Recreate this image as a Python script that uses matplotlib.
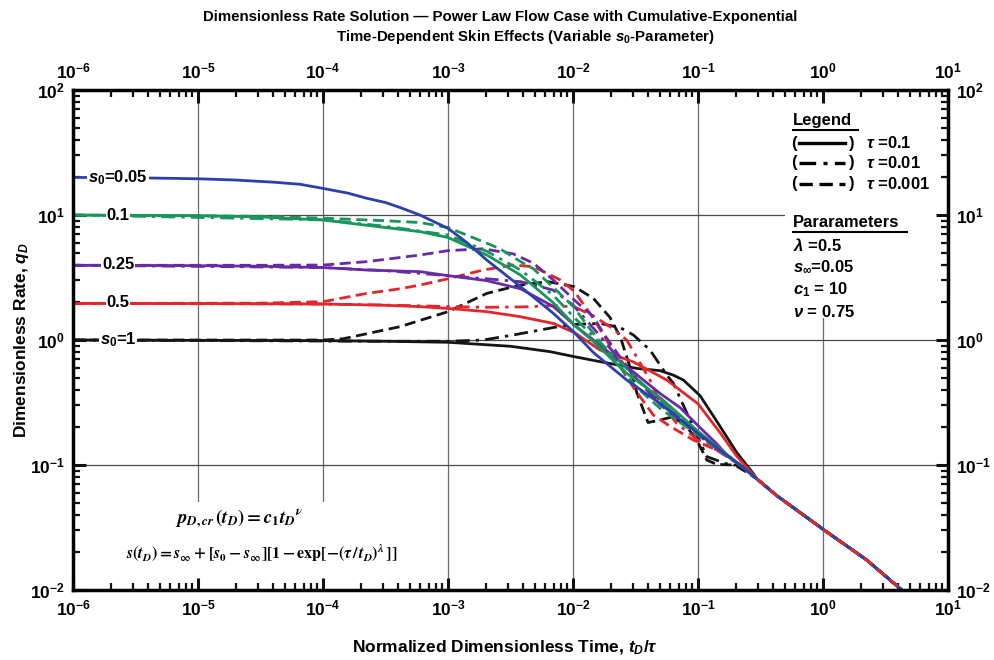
import numpy as np
import matplotlib
matplotlib.use('Agg')
import matplotlib.pyplot as plt
from matplotlib.ticker import FixedLocator, LogLocator, FuncFormatter, NullFormatter
from matplotlib.patches import Rectangle

# ---- data: log10(t_D/tau), log10(q_D) ----
# late-time common line shared by every curve
lt_tail = [-0.53, -0.37, 0.016, 0.35, 0.63, 0.75]
lq_tail = [-1.11, -1.245, -1.525, -1.76, -2.0, -2.09]

# s0 = 0.05 (s0 = s_inf, all tau coincide)
lt_005 = [-6, -5.5, -5, -4.7, -4.4, -4.184, -4.0, -3.8, -3.65, -3.5, -3.384, -3.224, -3.0, -2.85, -2.69, -2.424, -2.157, -1.99, -1.837, -1.57, -1.304, -1.0, -0.85, -0.664]
lq_005 = [1.301, 1.298, 1.29, 1.28, 1.263, 1.246, 1.213, 1.175, 1.134, 1.1, 1.06, 1.0, 0.893, 0.78, 0.64, 0.43, 0.213, 0.06, -0.1, -0.32, -0.507, -0.747, -0.86, -1.0]

# s0 = 0.1
lt_01_a = [-6, -5, -4.5, -4, -3.5, -3.224, -3.0, -2.69, -2.42, -2.16, -1.99, -1.85, -1.57, -1.304, -1.144, -1.0, -0.85, -0.664]
lq_01_a = [1.0, 0.995, 0.985, 0.96, 0.9, 0.867, 0.82, 0.68, 0.52, 0.3, 0.12, 0.0, -0.267, -0.46, -0.6, -0.73, -0.85, -1.0]
lt_01_b = [-6, -4, -3.5, -3.0, -2.69, -2.42, -2.16, -1.99, -1.85, -1.7, -1.5, -1.3, -1.0, -0.85, -0.664]
lq_01_b = [1.0, 0.962, 0.91, 0.84, 0.71, 0.56, 0.36, 0.18, 0.04, -0.1, -0.3, -0.48, -0.74, -0.86, -1.0]
lt_01_c = [-6, -4.5, -4.0, -3.517, -3.224, -3.0, -2.69, -2.584, -2.424, -2.317, -2.157, -2.0, -1.85, -1.7, -1.5, -1.3, -1.0, -0.85, -0.664]
lq_01_c = [1.0, 0.99, 0.975, 0.955, 0.94, 0.9, 0.775, 0.73, 0.63, 0.57, 0.42, 0.27, 0.07, -0.12, -0.37, -0.55, -0.76, -0.87, -1.0]

# s0 = 0.25
lt_025_a = [-6, -5, -4.5, -4, -3.65, -3.224, -3.0, -2.69, -2.42, -2.16, -1.99, -1.837, -1.57, -1.304, -1.144, -1.0, -0.85, -0.77, -0.664]
lq_025_a = [0.598, 0.595, 0.59, 0.58, 0.56, 0.547, 0.515, 0.475, 0.41, 0.27, 0.12, 0.0, -0.213, -0.427, -0.54, -0.685, -0.83, -0.92, -1.0]
lt_025_b = [-6, -4, -3.5, -3.0, -2.69, -2.42, -2.16, -2.0, -1.85, -1.7, -1.5, -1.3, -1.0, -0.85, -0.664]
lq_025_b = [0.598, 0.58, 0.555, 0.515, 0.49, 0.467, 0.4, 0.28, 0.11, -0.07, -0.3, -0.5, -0.74, -0.86, -1.0]
lt_025_c = [-6, -4.5, -4.0, -3.65, -3.224, -3.0, -2.72, -2.48, -2.317, -2.157, -1.99, -1.837, -1.757, -1.65, -1.5, -1.3, -1.0, -0.85, -0.664]
lq_025_c = [0.598, 0.598, 0.6, 0.627, 0.68, 0.715, 0.73, 0.69, 0.615, 0.48, 0.32, 0.187, 0.053, -0.1, -0.3, -0.52, -0.76, -0.87, -1.0]

# s0 = 0.5
lt_05_a = [-6, -5, -4, -3.5, -3.224, -3.0, -2.69, -2.424, -2.157, -1.99, -1.784, -1.517, -1.25, -1.0, -0.824, -0.69, -0.6]
lq_05_a = [0.293, 0.292, 0.288, 0.278, 0.267, 0.253, 0.227, 0.187, 0.133, 0.06, -0.08, -0.175, -0.32, -0.51, -0.74, -0.93, -1.03]
lt_05_b = [-6, -4, -3.5, -3.0, -2.7, -2.4, -2.15, -1.99, -1.85, -1.704, -1.57, -1.384, -1.304, -1.17, -1.0, -0.85, -0.664]
lq_05_b = [0.293, 0.288, 0.28, 0.268, 0.262, 0.265, 0.275, 0.265, 0.2, 0.107, 0.0, -0.32, -0.5, -0.667, -0.8, -0.88, -1.0]
lt_05_c = [-6, -4.5, -4.0, -3.65, -3.384, -3.224, -3.0, -2.72, -2.48, -2.317, -2.1, -1.99, -1.864, -1.73, -1.624, -1.517, -1.357, -1.224, -1.037, -0.85, -0.664]
lq_05_c = [0.293, 0.295, 0.307, 0.373, 0.41, 0.44, 0.49, 0.56, 0.6, 0.587, 0.48, 0.39, 0.213, 0.0, -0.213, -0.38, -0.6, -0.69, -0.8, -0.88, -1.0]

# s0 = 1
lt_1_a = [-6, -4, -3.5, -3.0, -2.5, -2.184, -1.99, -1.784, -1.49, -1.304, -1.2, -1.117, -0.984, -0.85, -0.69, -0.557]
lq_1_a = [0.0, -0.005, -0.01, -0.018, -0.05, -0.093, -0.133, -0.173, -0.227, -0.245, -0.28, -0.32, -0.445, -0.65, -0.9, -1.07]
lt_1_b = [-6, -3.5, -3.0, -2.72, -2.48, -2.157, -1.99, -1.784, -1.624, -1.517, -1.384, -1.25, -1.197, -1.064, -0.93, -0.744, -0.664]
lq_1_b = [0.0, -0.01, -0.01, 0.0, 0.04, 0.1, 0.125, 0.133, 0.1, 0.04, -0.08, -0.28, -0.347, -0.64, -0.933, -1.0, -1.0]
lt_1_c = [-6, -4.0, -3.84, -3.384, -3.0, -2.69, -2.424, -2.2, -1.99, -1.837, -1.704, -1.62, -1.55, -1.49, -1.4, -1.304, -1.198, -1.09, -1.01, -0.93, -0.85, -0.704, -0.624]
lq_1_c = [0.0, 0.0, 0.01, 0.107, 0.227, 0.373, 0.44, 0.467, 0.427, 0.333, 0.18, 0.02, -0.2, -0.42, -0.66, -0.64, -0.613, -0.693, -0.8, -0.96, -0.995, -1.0, -1.05]

x_decades = [-6, -5, -4, -3, -2, -1, 0, 1]
y_decades = [-2, -1, 0, 1, 2]
s0_labels = [r'$s_0$=0.05', '0.1', '0.25', '0.5', r'$s_0$=1']
s0_values = [0.05, 0.1, 0.25, 0.5, 1.0]
tau_labels = [r'$\tau$ =0.1', r'$\tau$ =0.01', r'$\tau$ =0.001']
param_labels = [r'$\lambda$ =0.5', r'$s_\infty$=0.05', r'$c_1$ = 10', r'$\nu$ = 0.75']

# ---- style ----
plt.rcParams['font.family'] = ['Liberation Sans', 'DejaVu Sans']
plt.rcParams['font.weight'] = 'bold'
plt.rcParams['mathtext.fontset'] = 'custom'
plt.rcParams['mathtext.rm'] = 'Liberation Sans:bold'
plt.rcParams['mathtext.bf'] = 'Liberation Sans:bold'
plt.rcParams['mathtext.it'] = 'Liberation Sans:italic:bold'

blue, green, purple, red, black = '#2b3fb0', '#17955a', '#6a2aa5', '#e3262b', '#151515'
ls_solid = '-'
ls_dashdot = (0, (5, 2.2, 1.2, 2.2))
ls_dash = (0, (4, 2))

fig = plt.figure(figsize=(9.95, 6.6), dpi=100)
ax = fig.add_axes([0.0734, 0.106, 0.8794, 0.7576])
ax.set_xscale('log')
ax.set_yscale('log')
ax.set_xlim(1e-6, 1e1)
ax.set_ylim(1e-2, 1e2)

# decade grid (drawn low so white text boxes can hide it)
for e in x_decades[1:-1]:
    ax.axvline(10.0 ** e, color='#6a6a6a', lw=0.9, zorder=0.5)
for e in y_decades[1:-1]:
    ax.axhline(10.0 ** e, color='#4a4a4a', lw=0.9, zorder=0.5)

# white backgrounds behind legend block and formulas
ax.add_patch(Rectangle((0.814, 0.544), 0.18, 0.45, transform=ax.transAxes,
                       facecolor='white', edgecolor='none', zorder=1))
ax.add_patch(Rectangle((0.065, 0.008), 0.332, 0.168, transform=ax.transAxes,
                       facecolor='white', edgecolor='none', zorder=1))

curves = [
    (lt_1_a, lq_1_a, black, ls_solid), (lt_1_b, lq_1_b, black, ls_dashdot), (lt_1_c, lq_1_c, black, ls_dash),
    (lt_05_a, lq_05_a, red, ls_solid), (lt_05_b, lq_05_b, red, ls_dashdot), (lt_05_c, lq_05_c, red, ls_dash),
    (lt_025_a, lq_025_a, purple, ls_solid), (lt_025_b, lq_025_b, purple, ls_dashdot), (lt_025_c, lq_025_c, purple, ls_dash),
    (lt_01_a, lq_01_a, green, ls_solid), (lt_01_b, lq_01_b, green, ls_dashdot), (lt_01_c, lq_01_c, green, ls_dash),
    (lt_005, lq_005, blue, ls_solid),
]
for lt, lq, c, ls in curves:
    x = 10.0 ** np.array(lt + lt_tail)
    y = 10.0 ** np.array(lq + lq_tail)
    ax.plot(x, y, color=c, linestyle=ls, lw=2.0, zorder=2)
# the tau=0.001 red dashes end up on top in the late part
ax.plot(10.0 ** np.array(lt_tail), 10.0 ** np.array(lq_tail), color=red, linestyle=ls_dash, lw=2.0, zorder=2.1)

# curve labels on the left
for lab, s0 in zip(s0_labels, s0_values):
    ax.text(10 ** -5.64, 1.0 / s0, lab, ha='center', va='center', fontsize=12,
            bbox=dict(facecolor='white', edgecolor='none', pad=0.6), zorder=3)

# ---- axes, ticks ----
for sp in ax.spines.values():
    sp.set_linewidth(2.5)
ax.xaxis.set_major_locator(FixedLocator([10.0 ** e for e in x_decades]))
ax.yaxis.set_major_locator(FixedLocator([10.0 ** e for e in y_decades]))
ax.xaxis.set_minor_locator(LogLocator(base=10, subs=np.arange(2, 10), numticks=20))
ax.yaxis.set_minor_locator(LogLocator(base=10, subs=np.arange(2, 10), numticks=20))
fmt = FuncFormatter(lambda v, p: r'$\mathbf{10^{%d}}$' % int(round(np.log10(v))))
ax.xaxis.set_major_formatter(fmt)
ax.yaxis.set_major_formatter(fmt)
ax.xaxis.set_minor_formatter(NullFormatter())
ax.yaxis.set_minor_formatter(NullFormatter())
ax.tick_params(which='both', direction='in', top=True, right=True,
               labeltop=True, labelright=True, labelsize=12.5, color='#111111')
ax.tick_params(which='major', length=9, width=2.2, pad=6)
ax.tick_params(which='minor', length=5, width=1.6)

# ---- legend block (text) ----
tr = ax.transAxes
ax.text(0.823, 0.94, 'Legend', transform=tr, fontsize=12, va='center', ha='left', zorder=3)
ax.plot([0.823, 0.897], [0.921, 0.921], transform=tr, color='black', lw=1.5, zorder=3)
rows_y = [0.894, 0.855, 0.813]
for y, ls, lab in zip(rows_y, [ls_solid, ls_dashdot, ls_dash], tau_labels):
    ax.text(0.8206, y, '(', transform=tr, fontsize=12, va='center', ha='left', zorder=3)
    ax.text(0.887, y, ')', transform=tr, fontsize=12, va='center', ha='left', zorder=3)
    ax.plot([0.8295, 0.8825], [y, y], transform=tr, color='black', linestyle=ls, lw=2.4, zorder=3)
    ax.text(0.906, y, lab, transform=tr, fontsize=12, va='center', ha='left', zorder=3)
ax.text(0.823, 0.736, 'Pararameters', transform=tr, fontsize=12, va='center', ha='left', zorder=3)
ax.plot([0.823, 0.953], [0.716, 0.716], transform=tr, color='black', lw=1.5, zorder=3)
for y, lab in zip([0.69, 0.646, 0.600, 0.556], param_labels):
    ax.text(0.823, y, lab, transform=tr, fontsize=12, va='center', ha='left', zorder=3)

# ---- formulas ----
ax.text(0.19, 0.142, r'$p_{D,cr}\,(t_D) = c_1 t_D{}^{\nu}$', transform=tr, fontsize=13.5,
        ha='center', va='center', math_fontfamily='stix', zorder=3)
ax.text(0.216, 0.074, r'$s(t_D) = s_\infty + [s_0 - s_\infty][1 - \exp[-(\tau\,/\,t_D)^{\lambda}\,]]$',
        transform=tr, fontsize=11.5, ha='center', va='center', math_fontfamily='stix', zorder=3)

# ---- titles and axis labels ----
fig.text(0.503, 0.974, 'Dimensionless Rate Solution \u2014 Power Law Flow Case with Cumulative-Exponential',
         ha='center', va='center', fontsize=10.8)
fig.text(0.528, 0.944, r'Time-Dependent Skin Effects (Variable $s_0$-Parameter)',
         ha='center', va='center', fontsize=10.8)
fig.text(0.022, 0.485, r'Dimensionless Rate, $q_D$', rotation=90, ha='center', va='center', fontsize=12.5)
fig.text(0.507, 0.018, r'Normalized Dimensionless Time, $t_D/\tau$', ha='center', va='center', fontsize=12.5)

fig.savefig('out.png', dpi=100)
